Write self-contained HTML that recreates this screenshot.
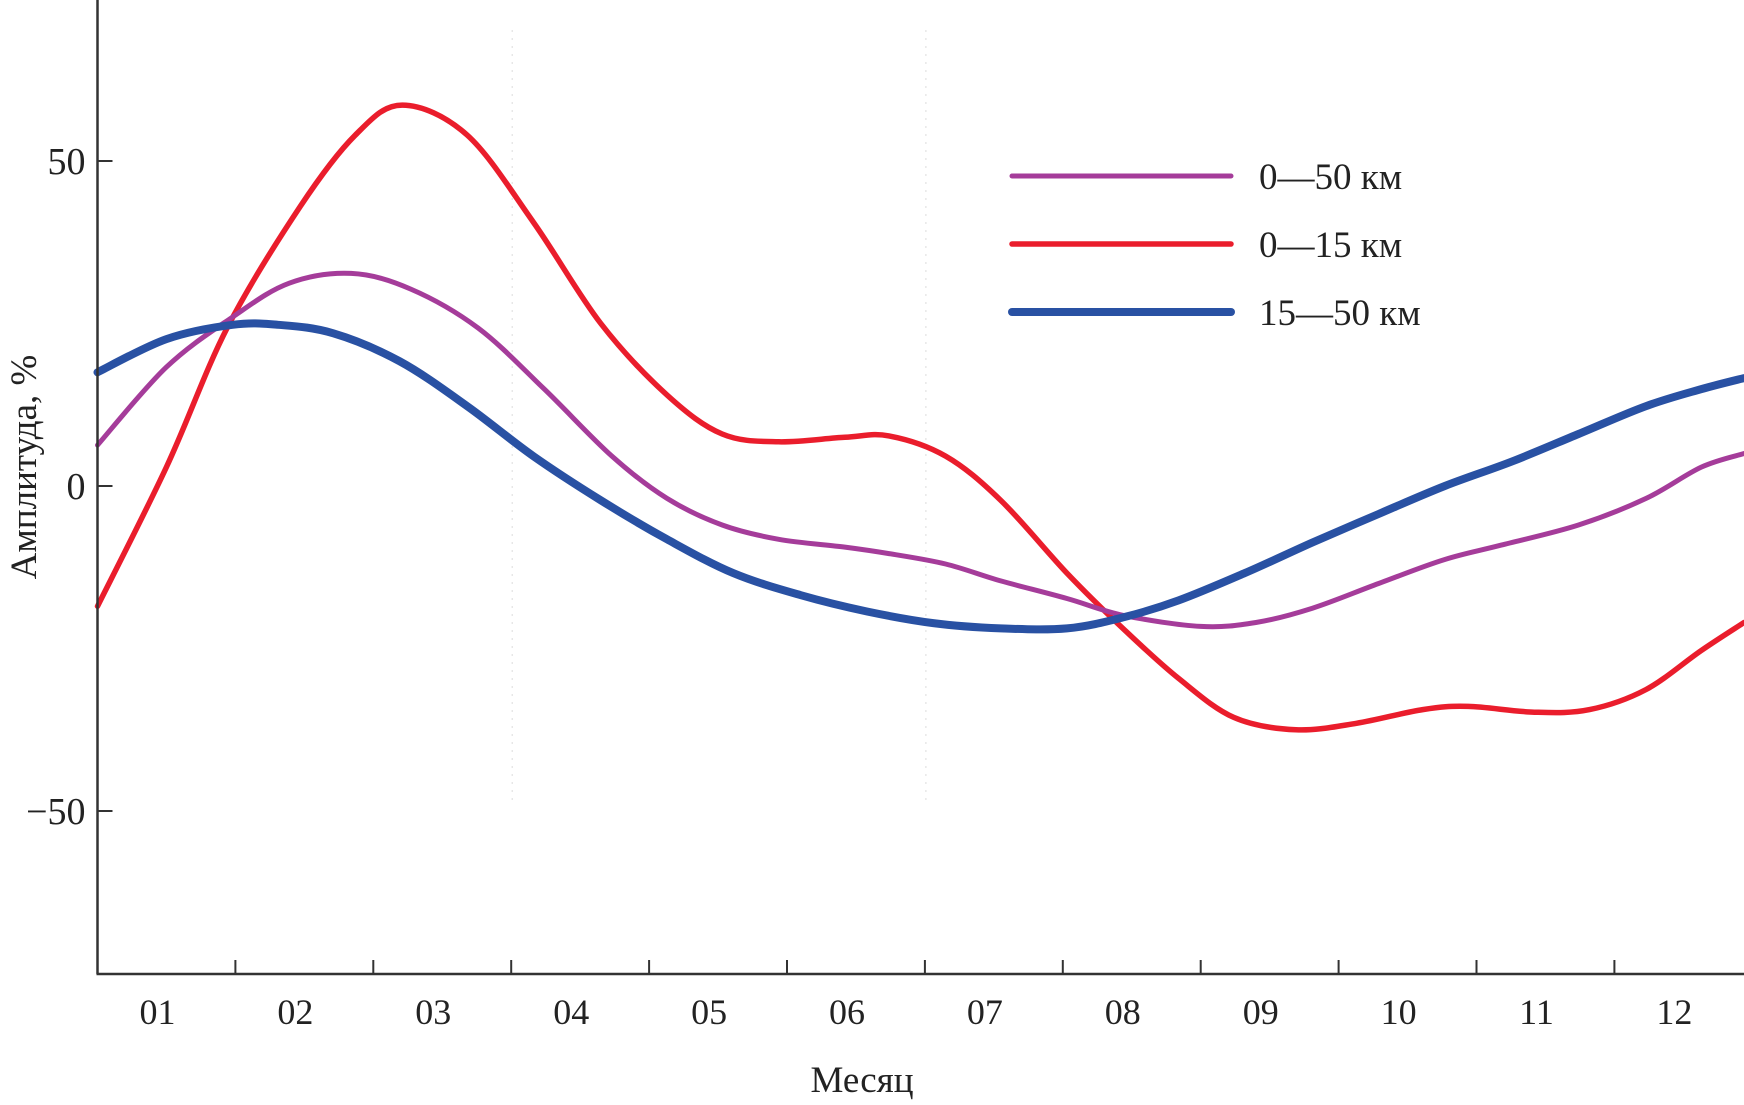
<!DOCTYPE html>
<html><head><meta charset="utf-8"><style>
body{margin:0;background:#fff;}
svg{display:block;font-family:"Liberation Serif",serif;}
</style></head><body>
<svg id="chart" width="1744" height="1105" viewBox="0 0 1744 1105" xmlns="http://www.w3.org/2000/svg">
<g id="grid"></g>
<g id="series"></g>
<g id="axes"></g>
<g id="legend"></g>
<text transform="translate(36,467) rotate(-90)" text-anchor="middle" font-size="37" fill="#222">Амплитуда, %</text>
<text x="862" y="1092" text-anchor="middle" font-size="37" fill="#222">Месяц</text>
</svg>
<script>
const monthLabels = ['01','02','03','04','05','06','07','08','09','10','11','12'];
const yTicks = [50, 0, -50];
const tRed = [0,0.5,0.94,1.47,1.87,2.21,2.68,3.16,3.65,4.13,4.53,4.94,5.42,5.74,6.15,6.55,7.03,7.44,7.84,8.24,8.69,9.13,9.61,9.94,10.42,10.82,11.23,11.63,11.94];
const vRed = [-18.5,2.9,24.3,43,54,58.6,54,40.6,25,14,8,6.8,7.5,7.7,4.6,-2.2,-13.4,-22,-29.6,-35.6,-37.5,-36.5,-34.4,-33.9,-34.8,-34.4,-31.3,-25.3,-21];
const tPurple = [0,0.5,0.98,1.39,1.84,2.27,2.76,3.24,3.73,4.13,4.53,4.94,5.42,5.74,6.15,6.55,7.03,7.44,8,8.4,8.81,9.29,9.77,10.18,10.74,11.23,11.63,11.94];
const vPurple = [6.3,18.3,26,31.2,32.7,30.3,24.3,14.9,4.6,-1.9,-6,-8.2,-9.4,-10.4,-12,-14.6,-17.3,-19.9,-21.6,-21,-18.8,-15,-11.3,-9.1,-6,-1.9,2.9,5];
const tBlue = [0,0.5,0.98,1.31,1.71,2.19,2.68,3.16,3.65,4.13,4.61,5.1,5.58,6.06,6.55,7.03,7.44,7.84,8.32,8.81,9.29,9.77,10.26,10.74,11.23,11.63,11.94];
const vBlue = [17.5,22.6,24.8,24.8,23.5,19.2,12.3,4.6,-2.2,-8.2,-13.4,-16.8,-19.3,-21.1,-21.9,-21.9,-20.2,-17.6,-13.4,-8.7,-4.3,0,3.8,8,12.3,14.9,16.6];

const NS='http://www.w3.org/2000/svg';
const X0=97.5, XSTEP=137.9, Y0=486, YSCALE=6.5;
function sx(t){return X0+t*XSTEP;}
function sy(v){return Y0-v*YSCALE;}
function mk(tag,attrs,parent){const e=document.createElementNS(NS,tag);for(const k in attrs)e.setAttribute(k,attrs[k]);parent.appendChild(e);return e;}
function smoothPath(ts,vs){
  const p=ts.map((t,i)=>[sx(t),sy(vs[i])]);
  let d='M'+p[0][0].toFixed(1)+','+p[0][1].toFixed(1);
  for(let i=0;i<p.length-1;i++){
    const a=p[Math.max(i-1,0)],b=p[i],c=p[i+1],e=p[Math.min(i+2,p.length-1)];
    const c1=[b[0]+(c[0]-a[0])/6,b[1]+(c[1]-a[1])/6];
    const c2=[c[0]-(e[0]-b[0])/6,c[1]-(e[1]-b[1])/6];
    d+=' C'+c1.map(n=>n.toFixed(1))+' '+c2.map(n=>n.toFixed(1))+' '+c[0].toFixed(1)+','+c[1].toFixed(1);
  }
  return d;
}
const grid=document.getElementById('grid');
[3,6].forEach(k=>{
  const g=mk('line',{x1:sx(k)+1,x2:sx(k)+1,y1:30,y2:800,stroke:'#ddd','stroke-width':1,'stroke-dasharray':'2,6'},grid);
  
  
});
const series=document.getElementById('series');
const defs=[['series-0-15km',tRed,vRed,'#ea1d2c',5.5],['series-0-50km',tPurple,vPurple,'#a53c9a',5],['series-15-50km',tBlue,vBlue,'#2951a3',8]];
defs.forEach(([n,ts,vs,c,w])=>{
  const p=mk('path',{d:smoothPath(ts,vs),fill:'none',stroke:c,'stroke-width':w,'stroke-linecap':'round'},series);
  
  
});
const axes=document.getElementById('axes');
const ya=mk('line',{x1:X0,x2:X0,y1:0,y2:974,stroke:'#333','stroke-width':2.5},axes);


const xa=mk('line',{x1:X0-1,x2:1744,y1:974,y2:974,stroke:'#333','stroke-width':2.5},axes);


yTicks.forEach(v=>{
  const l=mk('line',{x1:X0,x2:X0+15,y1:sy(v),y2:sy(v),stroke:'#333','stroke-width':2},axes);
  
  
  const t=mk('text',{x:X0-12,y:sy(v)+13,'text-anchor':'end','font-size':38,fill:'#222'},axes);
  t.textContent=v<0?'\u2212'+Math.abs(v):String(v);
  
  
});
monthLabels.forEach((m,i)=>{
  if(i>0){
    const l=mk('line',{x1:sx(i),x2:sx(i),y1:960,y2:974,stroke:'#333','stroke-width':2},axes);
    
    
  }
  const t=mk('text',{x:sx(i)+60,y:1024,'text-anchor':'middle','font-size':36,fill:'#222'},axes);
  t.textContent=m;
  
  
});
const legend=document.getElementById('legend');
[['0\u201450 км','#a53c9a',5,176],['0\u201415 км','#ea1d2c',5.5,244],['15\u201450 км','#2951a3',8,312]].forEach(([lab,c,w,y])=>{
  const l=mk('line',{x1:1012,x2:1231,y1:y,y2:y,stroke:c,'stroke-width':w,'stroke-linecap':'round'},legend);
  
  
  const t=mk('text',{x:1259,y:y+13,'font-size':37,fill:'#222'},legend);
  t.textContent=lab;
  
  
});
</script>
</body></html>
